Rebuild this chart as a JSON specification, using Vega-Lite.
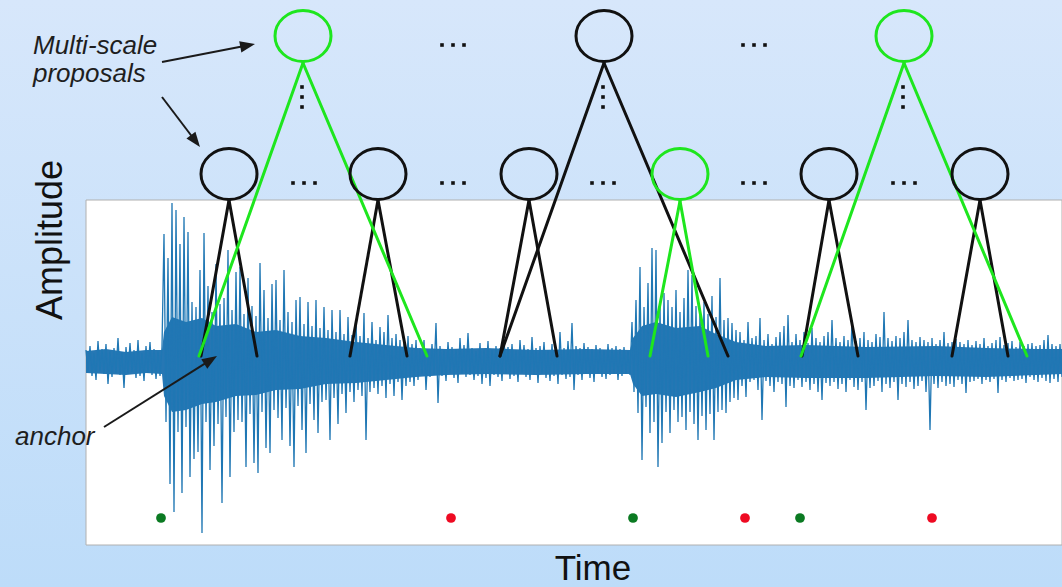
{
  "$schema": "https://vega.github.io/schema/vega-lite/v6.json",
  "width": 1062,
  "height": 587,
  "autosize": {"type": "fit", "contains": "padding"},
  "padding": 0,
  "background": "#c9e1f9",
  "config": {"view": {"stroke": null}},
  "datasets": {
    "wave": [
      {"t":0,"a":12},{"t":2,"a":-10},{"t":4,"a":16},{"t":6,"a":-14},{"t":8,"a":9},{"t":10,"a":-18},{"t":12,"a":21},{"t":14,"a":-9},{"t":16,"a":13},{"t":18,"a":-12},{"t":20,"a":18},{"t":22,"a":-22},{"t":24,"a":11},{"t":26,"a":-15},{"t":28,"a":14},{"t":30,"a":-11},{"t":32,"a":24},{"t":34,"a":-13},{"t":36,"a":10},{"t":38,"a":-26},{"t":40,"a":15},{"t":42,"a":-12},{"t":44,"a":19},{"t":46,"a":-10},{"t":48,"a":12},{"t":50,"a":-16},{"t":52,"a":22},{"t":54,"a":-14},{"t":56,"a":9},{"t":58,"a":-19},{"t":60,"a":16},{"t":62,"a":-11},{"t":64,"a":20},{"t":66,"a":-13},{"t":68,"a":13},{"t":70,"a":-17},{"t":72,"a":11},{"t":74,"a":-14},{"t":76,"a":15},
      {"t":78,"a":128},{"t":80,"a":-60},{"t":82,"a":104},{"t":84,"a":-122},{"t":86,"a":159},{"t":88,"a":-150},{"t":90,"a":152},{"t":92,"a":-70},{"t":94,"a":118},{"t":96,"a":-131},{"t":98,"a":145},{"t":100,"a":-65},{"t":102,"a":130},{"t":104,"a":-115},{"t":106,"a":60},{"t":108,"a":-97},{"t":110,"a":55},{"t":112,"a":-90},{"t":114,"a":92},{"t":116,"a":-171},{"t":118,"a":129},{"t":120,"a":-60},{"t":122,"a":76},{"t":124,"a":-108},{"t":126,"a":50},{"t":128,"a":-84},{"t":130,"a":98},{"t":132,"a":-62},{"t":134,"a":58},{"t":136,"a":-141},{"t":138,"a":64},{"t":140,"a":-55},{"t":142,"a":112},{"t":144,"a":-115},{"t":146,"a":52},{"t":148,"a":-70},{"t":150,"a":90},{"t":152,"a":-58},{"t":154,"a":95},{"t":156,"a":-60},{"t":158,"a":48},{"t":160,"a":-105},{"t":162,"a":84},{"t":164,"a":-52},{"t":166,"a":56},{"t":168,"a":-101},{"t":170,"a":46},{"t":172,"a":-111},{"t":174,"a":99},{"t":176,"a":-50},{"t":178,"a":72},{"t":180,"a":-86},{"t":182,"a":44},{"t":184,"a":-91},{"t":186,"a":78},{"t":188,"a":-48},{"t":190,"a":82},{"t":192,"a":-56},{"t":194,"a":42},{"t":196,"a":-78},{"t":198,"a":92},{"t":200,"a":-46},{"t":202,"a":50},{"t":204,"a":-84},{"t":206,"a":40},{"t":208,"a":-105},{"t":210,"a":62},{"t":212,"a":-44},{"t":214,"a":65},{"t":216,"a":-68},{"t":218,"a":38},{"t":220,"a":-91},{"t":222,"a":60},{"t":224,"a":-42},{"t":226,"a":36},{"t":228,"a":-58},{"t":230,"a":62},{"t":232,"a":-71},{"t":234,"a":34},{"t":236,"a":-40},{"t":238,"a":55},{"t":240,"a":-38},{"t":242,"a":32},{"t":244,"a":-78},{"t":246,"a":52},{"t":248,"a":-36},{"t":250,"a":30},{"t":252,"a":-62},{"t":254,"a":52},{"t":256,"a":-32},{"t":258,"a":28},{"t":260,"a":-51},{"t":262,"a":45},{"t":264,"a":-30},{"t":266,"a":27},{"t":268,"a":-40},{"t":270,"a":42},{"t":272,"a":-28},{"t":274,"a":26},{"t":276,"a":-34},{"t":278,"a":49},{"t":280,"a":-78},{"t":282,"a":24},{"t":284,"a":-30},{"t":286,"a":40},{"t":288,"a":-26},{"t":290,"a":22},{"t":292,"a":-32},{"t":294,"a":35},{"t":296,"a":-24},{"t":298,"a":30},{"t":300,"a":-36},{"t":302,"a":47},{"t":304,"a":-22},{"t":306,"a":24},{"t":308,"a":-34},{"t":310,"a":28},{"t":312,"a":-20},{"t":314,"a":22},{"t":316,"a":-38},{"t":318,"a":20},{"t":320,"a":-24},{"t":322,"a":26},{"t":324,"a":-20},{"t":326,"a":18},{"t":328,"a":-24},{"t":330,"a":22},
      {"t":332,"a":-18},{"t":334,"a":14},{"t":336,"a":-12},{"t":338,"a":22},{"t":340,"a":-28},{"t":342,"a":11},{"t":344,"a":-15},{"t":346,"a":18},{"t":348,"a":-13},{"t":350,"a":39},{"t":352,"a":-41},{"t":354,"a":16},{"t":356,"a":-14},{"t":358,"a":12},{"t":360,"a":-19},{"t":362,"a":20},{"t":364,"a":-11},{"t":366,"a":15},{"t":368,"a":-16},{"t":370,"a":13},{"t":372,"a":-21},{"t":374,"a":24},{"t":376,"a":-12},{"t":378,"a":17},{"t":380,"a":-15},{"t":382,"a":29},{"t":384,"a":-13},{"t":386,"a":14},{"t":388,"a":-18},{"t":390,"a":11},{"t":392,"a":-14},{"t":394,"a":19},{"t":396,"a":-22},{"t":398,"a":13},{"t":400,"a":-16},{"t":402,"a":21},{"t":404,"a":-24},{"t":406,"a":12},{"t":408,"a":-13},{"t":410,"a":16},{"t":412,"a":-15},{"t":414,"a":14},{"t":416,"a":-19},{"t":418,"a":23},{"t":420,"a":-12},{"t":422,"a":15},{"t":424,"a":-17},{"t":426,"a":18},{"t":428,"a":-14},{"t":430,"a":12},{"t":432,"a":-20},{"t":434,"a":22},{"t":436,"a":-11},{"t":438,"a":17},{"t":440,"a":-15},{"t":442,"a":13},{"t":444,"a":-18},{"t":446,"a":25},{"t":448,"a":-13},{"t":450,"a":14},{"t":452,"a":-21},{"t":454,"a":16},{"t":456,"a":-12},{"t":458,"a":20},{"t":460,"a":-16},{"t":462,"a":12},{"t":464,"a":-19},{"t":466,"a":18},{"t":468,"a":-14},{"t":470,"a":15},{"t":472,"a":-22},{"t":474,"a":30},{"t":476,"a":-13},{"t":478,"a":14},{"t":480,"a":-17},{"t":482,"a":21},{"t":484,"a":-15},{"t":486,"a":39},{"t":488,"a":-28},{"t":490,"a":16},{"t":492,"a":-13},{"t":494,"a":14},{"t":496,"a":-18},{"t":498,"a":19},{"t":500,"a":-12},{"t":502,"a":15},{"t":504,"a":-16},{"t":506,"a":13},{"t":508,"a":-20},{"t":510,"a":17},{"t":512,"a":-11},{"t":514,"a":14},{"t":516,"a":-15},{"t":518,"a":12},{"t":520,"a":-17},{"t":522,"a":18},{"t":524,"a":-13},{"t":526,"a":14},{"t":528,"a":-12},{"t":530,"a":16},{"t":532,"a":-18},{"t":534,"a":13},{"t":536,"a":-14},{"t":538,"a":15},{"t":540,"a":-12},{"t":542,"a":11},{"t":544,"a":-13},
      {"t":546,"a":40},{"t":548,"a":-30},{"t":550,"a":62},{"t":552,"a":-51},{"t":554,"a":95},{"t":556,"a":-98},{"t":558,"a":55},{"t":560,"a":-45},{"t":562,"a":79},{"t":564,"a":-71},{"t":566,"a":114},{"t":568,"a":-60},{"t":570,"a":112},{"t":572,"a":-105},{"t":574,"a":58},{"t":576,"a":-81},{"t":578,"a":69},{"t":580,"a":-50},{"t":582,"a":62},{"t":584,"a":-71},{"t":586,"a":55},{"t":588,"a":-48},{"t":590,"a":72},{"t":592,"a":-60},{"t":594,"a":50},{"t":596,"a":-55},{"t":598,"a":64},{"t":600,"a":-68},{"t":602,"a":92},{"t":604,"a":-50},{"t":606,"a":87},{"t":608,"a":-62},{"t":610,"a":56},{"t":612,"a":-78},{"t":614,"a":52},{"t":616,"a":-54},{"t":618,"a":60},{"t":620,"a":-68},{"t":622,"a":48},{"t":624,"a":-52},{"t":626,"a":66},{"t":628,"a":-78},{"t":630,"a":45},{"t":632,"a":-50},{"t":634,"a":84},{"t":636,"a":-48},{"t":638,"a":42},{"t":640,"a":-51},{"t":642,"a":44},{"t":644,"a":-40},{"t":646,"a":39},{"t":648,"a":-36},{"t":650,"a":32},{"t":652,"a":-38},{"t":654,"a":30},
      {"t":656,"a":-24},{"t":658,"a":22},{"t":660,"a":-35},{"t":662,"a":40},{"t":664,"a":-20},{"t":666,"a":24},{"t":668,"a":-18},{"t":670,"a":26},{"t":672,"a":-28},{"t":674,"a":44},{"t":676,"a":-58},{"t":678,"a":22},{"t":680,"a":-19},{"t":682,"a":28},{"t":684,"a":-24},{"t":686,"a":18},{"t":688,"a":-30},{"t":690,"a":25},{"t":692,"a":-20},{"t":694,"a":30},{"t":696,"a":-22},{"t":698,"a":36},{"t":700,"a":-45},{"t":702,"a":47},{"t":704,"a":-24},{"t":706,"a":20},{"t":708,"a":-26},{"t":710,"a":28},{"t":712,"a":-18},{"t":714,"a":22},{"t":716,"a":-25},{"t":718,"a":30},{"t":720,"a":-20},{"t":722,"a":19},{"t":724,"a":-28},{"t":726,"a":34},{"t":728,"a":-22},{"t":730,"a":24},{"t":732,"a":-30},{"t":734,"a":20},{"t":736,"a":-38},{"t":738,"a":26},{"t":740,"a":-21},{"t":742,"a":30},{"t":744,"a":-24},{"t":746,"a":42},{"t":748,"a":-20},{"t":750,"a":24},{"t":752,"a":-27},{"t":754,"a":20},{"t":756,"a":-22},{"t":758,"a":26},{"t":760,"a":-30},{"t":762,"a":22},{"t":764,"a":-18},{"t":766,"a":42},{"t":768,"a":-25},{"t":770,"a":21},{"t":772,"a":-28},{"t":774,"a":24},{"t":776,"a":-20},{"t":778,"a":30},{"t":780,"a":-48},{"t":782,"a":22},{"t":784,"a":-26},{"t":786,"a":20},{"t":788,"a":-24},{"t":790,"a":28},{"t":792,"a":-19},{"t":794,"a":25},{"t":796,"a":-30},{"t":798,"a":50},{"t":800,"a":-22},{"t":802,"a":24},{"t":804,"a":-26},{"t":806,"a":21},{"t":808,"a":-20},{"t":810,"a":26},{"t":812,"a":-38},{"t":814,"a":24},{"t":816,"a":-22},{"t":818,"a":30},{"t":820,"a":-25},{"t":822,"a":42},{"t":824,"a":-20},{"t":826,"a":22},{"t":828,"a":-27},{"t":830,"a":20},{"t":832,"a":-24},{"t":834,"a":25},{"t":836,"a":-19},{"t":838,"a":22},{"t":840,"a":-30},{"t":842,"a":20},{"t":844,"a":-68},{"t":846,"a":24},{"t":848,"a":-22},{"t":850,"a":18},{"t":852,"a":-26},{"t":854,"a":22},{"t":856,"a":-20},{"t":858,"a":30},{"t":860,"a":-24},{"t":862,"a":19},{"t":864,"a":-22},{"t":866,"a":20},{"t":868,"a":-25},{"t":870,"a":23},{"t":872,"a":-18},{"t":874,"a":20},{"t":876,"a":-22},{"t":878,"a":18},{"t":880,"a":-31},{"t":882,"a":22},{"t":884,"a":-20},{"t":886,"a":17},{"t":888,"a":-19},{"t":890,"a":21},{"t":892,"a":-17},{"t":894,"a":18},{"t":896,"a":-22},{"t":898,"a":24},{"t":900,"a":-18},{"t":902,"a":16},{"t":904,"a":-20},{"t":906,"a":19},{"t":908,"a":-17},{"t":910,"a":22},{"t":912,"a":-31},{"t":914,"a":25},{"t":916,"a":-18},{"t":918,"a":17},{"t":920,"a":-20},{"t":922,"a":19},{"t":924,"a":-16},{"t":926,"a":21},{"t":928,"a":-19},{"t":930,"a":15},{"t":932,"a":-18},{"t":934,"a":20},{"t":936,"a":-17},{"t":938,"a":16},{"t":940,"a":-21},{"t":942,"a":18},{"t":944,"a":-15},{"t":946,"a":19},{"t":948,"a":-18},{"t":950,"a":16},{"t":952,"a":-20},{"t":954,"a":17},{"t":956,"a":-16},{"t":958,"a":22},{"t":960,"a":-19},{"t":962,"a":27},{"t":964,"a":-21},{"t":966,"a":18},{"t":968,"a":-17},{"t":970,"a":16},{"t":972,"a":-20},{"t":974,"a":18},{"t":976,"a":-15}
    ],
    "core": [
      {"t":0,"a":11,"a2":-11},{"t":20,"a":13,"a2":-12},{"t":40,"a":10,"a2":-13},{"t":60,"a":12,"a2":-11},{"t":76,"a":12,"a2":-12},
      {"t":78,"a":30,"a2":-34},{"t":86,"a":45,"a2":-50},{"t":100,"a":40,"a2":-48},{"t":116,"a":44,"a2":-42},{"t":130,"a":36,"a2":-40},{"t":150,"a":38,"a2":-34},{"t":170,"a":30,"a2":-33},{"t":190,"a":32,"a2":-28},{"t":214,"a":26,"a2":-27},{"t":240,"a":24,"a2":-22},{"t":270,"a":20,"a2":-21},{"t":300,"a":17,"a2":-18},{"t":330,"a":14,"a2":-15},
      {"t":360,"a":13,"a2":-13},{"t":400,"a":14,"a2":-12},{"t":450,"a":12,"a2":-13},{"t":500,"a":13,"a2":-12},{"t":544,"a":12,"a2":-12},
      {"t":547,"a":24,"a2":-22},{"t":556,"a":36,"a2":-34},{"t":570,"a":40,"a2":-32},{"t":590,"a":34,"a2":-35},{"t":614,"a":36,"a2":-30},{"t":630,"a":28,"a2":-26},{"t":650,"a":20,"a2":-18},
      {"t":680,"a":16,"a2":-15},{"t":720,"a":17,"a2":-16},{"t":780,"a":15,"a2":-16},{"t":850,"a":16,"a2":-14},{"t":900,"a":14,"a2":-15},{"t":950,"a":13,"a2":-13},{"t":976,"a":13,"a2":-12}
    ],
    "events": [
      {"t":75,"a":-156,"status":"matched"},
      {"t":365,"a":-156,"status":"unmatched"},
      {"t":547,"a":-156,"status":"matched"},
      {"t":659,"a":-156,"status":"unmatched"},
      {"t":714,"a":-156,"status":"matched"},
      {"t":846,"a":-156,"status":"unmatched"}
    ],
    "proposals": [
      {"t":217,"a":326,"proposal":"selected"},
      {"t":518,"a":326,"proposal":"other"},
      {"t":818,"a":326,"proposal":"selected"},
      {"t":143,"a":188,"proposal":"other"},
      {"t":292,"a":188,"proposal":"other"},
      {"t":443,"a":188,"proposal":"other"},
      {"t":594,"a":188,"proposal":"selected"},
      {"t":743,"a":188,"proposal":"other"},
      {"t":894,"a":188,"proposal":"other"}
    ],
    "legs": [
      {"t":143,"a":162,"t2":115,"a2":6,"proposal":"other"},
      {"t":143,"a":162,"t2":171,"a2":6,"proposal":"other"},
      {"t":292,"a":162,"t2":264,"a2":6,"proposal":"other"},
      {"t":292,"a":162,"t2":321,"a2":6,"proposal":"other"},
      {"t":443,"a":162,"t2":414,"a2":6,"proposal":"other"},
      {"t":443,"a":162,"t2":471,"a2":6,"proposal":"other"},
      {"t":743,"a":162,"t2":716,"a2":6,"proposal":"other"},
      {"t":743,"a":162,"t2":772,"a2":6,"proposal":"other"},
      {"t":894,"a":162,"t2":866,"a2":6,"proposal":"other"},
      {"t":894,"a":162,"t2":922,"a2":6,"proposal":"other"},
      {"t":518,"a":299,"t2":414,"a2":6,"proposal":"other"},
      {"t":518,"a":299,"t2":642,"a2":6,"proposal":"other"},
      {"t":594,"a":161,"t2":564,"a2":6,"proposal":"selected"},
      {"t":594,"a":161,"t2":622,"a2":6,"proposal":"selected"},
      {"t":217,"a":299,"t2":113,"a2":6,"proposal":"selected"},
      {"t":217,"a":299,"t2":341,"a2":6,"proposal":"selected"},
      {"t":818,"a":299,"t2":715,"a2":6,"proposal":"selected"},
      {"t":818,"a":299,"t2":941,"a2":6,"proposal":"selected"}
    ],
    "ellipsis": [
      {"t":216,"a":275},{"t":216,"a":265},{"t":216,"a":255},
      {"t":517,"a":275},{"t":517,"a":265},{"t":517,"a":255},
      {"t":817,"a":275},{"t":817,"a":265},{"t":817,"a":255},
      {"t":356,"a":317},{"t":367,"a":317},{"t":378,"a":317},
      {"t":657,"a":317},{"t":668,"a":317},{"t":679,"a":317},
      {"t":207,"a":179},{"t":218,"a":179},{"t":229,"a":179},
      {"t":356,"a":179},{"t":367,"a":179},{"t":378,"a":179},
      {"t":506,"a":179},{"t":517,"a":179},{"t":528,"a":179},
      {"t":657,"a":179},{"t":668,"a":179},{"t":679,"a":179},
      {"t":807,"a":179},{"t":818,"a":179},{"t":829,"a":179}
    ],
    "arrows": [
      {"t":76,"a":300,"t2":161,"a2":316.5},
      {"t":76,"a":265,"t2":109,"a2":221.5},
      {"t":18,"a":-65,"t2":124,"a2":1.7}
    ],
    "notes": [
      {"t":-53,"a":308,"label":"Multi-scale"},
      {"t":-53,"a":280,"label":"proposals"},
      {"t":-71,"a":-83,"label":"anchor"}
    ]
  },
  "encoding": {
    "x": {"field":"t","type":"quantitative","scale":{"domain":[-86,976],"nice":false,"zero":false},"axis":null},
    "y": {"field":"a","type":"quantitative","scale":{"domain":[-225,362],"nice":false,"zero":false},"axis":null}
  },
  "resolve": {"scale": {"stroke": "independent", "fill": "independent"}},
  "layer": [
    {
      "data": {"values": [{"t":-86,"t2":976,"a":-225,"a2":362}]},
      "mark": {"type":"rect","clip":true,"color":{"gradient":"linear","x1":0,"y1":0,"x2":0,"y2":1,"stops":[{"offset":0,"color":"#d7e7fb"},{"offset":1,"color":"#bddcf9"}]}},
      "encoding": {"x2":{"field":"t2"},"y2":{"field":"a2"}}
    },
    {
      "data": {"values": [{"t":0,"t2":976,"a":162,"a2":-183}]},
      "mark": {"type":"rect","clip":true,"fill":"#ffffff","stroke":"#b0b0b0","strokeWidth":1},
      "encoding": {"x2":{"field":"t2"},"y2":{"field":"a2"}}
    },
    {
      "data": {"name":"core"},
      "mark": {"type":"area","clip":true,"color":"#2677b4","opacity":1,"interpolate":"linear"},
      "encoding": {"y2":{"field":"a2"}}
    },
    {
      "data": {"name":"wave"},
      "mark": {"type":"line","clip":true,"color":"#1f77b4","strokeWidth":1.3,"interpolate":"linear"},
      "encoding": {}
    },
    {
      "data": {"name":"events"},
      "mark": {"type":"point","clip":true,"shape":"circle","filled":true,"size":95,"opacity":1,"strokeWidth":0},
      "encoding": {"fill":{"field":"status","type":"nominal","scale":{"domain":["matched","unmatched"],"range":["#0b7a22","#ee0a22"]},"legend":null}}
    },
    {
      "data": {"name":"legs"},
      "mark": {"type":"rule","clip":true,"strokeWidth":3,"strokeCap":"round"},
      "encoding": {
        "x2":{"field":"t2"},"y2":{"field":"a2"},
        "stroke":{"field":"proposal","type":"nominal","scale":{"domain":["selected","other"],"range":["#1ee61e","#111111"]},"legend":null}
      }
    },
    {
      "data": {"name":"proposals"},
      "mark": {"type":"point","clip":true,"shape":"M1,0C1,0.502 0.5523,0.91 0,0.91C-0.5523,0.91 -1,0.502 -1,0C-1,-0.502 -0.5523,-0.91 0,-0.91C0.5523,-0.91 1,-0.502 1,0Z","size":3136,"strokeWidth":3,"filled":false,"opacity":1},
      "encoding": {
        "stroke":{"field":"proposal","type":"nominal","scale":{"domain":["selected","other"],"range":["#1ee61e","#111111"]},"legend":null}
      }
    },
    {
      "data": {"name":"ellipsis"},
      "mark": {"type":"point","clip":true,"shape":"square","filled":true,"size":13,"color":"#111111","opacity":1,"strokeWidth":0},
      "encoding": {}
    },
    {
      "data": {"name":"arrows"},
      "mark": {"type":"rule","clip":true,"strokeWidth":2,"color":"#1a1a1a"},
      "encoding": {"x2":{"field":"t2"},"y2":{"field":"a2"}}
    },
    {
      "data": {"values": [{"t":169,"a":318}]},
      "mark": {"type":"point","clip":true,"shape":"M0,0L-2,-0.75L-2,0.75Z","size":225,"filled":true,"color":"#1a1a1a","opacity":1,"strokeWidth":0,"angle":349},
      "encoding": {}
    },
    {
      "data": {"values": [{"t":114,"a":215}]},
      "mark": {"type":"point","clip":true,"shape":"M0,0L-2,-0.75L-2,0.75Z","size":225,"filled":true,"color":"#1a1a1a","opacity":1,"strokeWidth":0,"angle":52.8},
      "encoding": {}
    },
    {
      "data": {"values": [{"t":131,"a":6}]},
      "mark": {"type":"point","clip":true,"shape":"M0,0L-2,-0.75L-2,0.75Z","size":225,"filled":true,"color":"#1a1a1a","opacity":1,"strokeWidth":0,"angle":327.9},
      "encoding": {}
    },
    {
      "data": {"name":"notes"},
      "mark": {"type":"text","clip":true,"font":"Liberation Sans","fontSize":26,"fontStyle":"italic","align":"left","baseline":"alphabetic","color":"#1e1e1e"},
      "encoding": {"text":{"field":"label","type":"nominal"}}
    },
    {
      "data": {"values": [{"t":-24,"a":122,"label":"Amplitude"}]},
      "mark": {"type":"text","clip":true,"font":"Liberation Sans","fontSize":36,"angle":270,"align":"center","baseline":"alphabetic","color":"#111111"},
      "encoding": {"text":{"field":"label","type":"nominal"}}
    },
    {
      "data": {"values": [{"t":507,"a":-225,"label":"Time"}]},
      "mark": {"type":"text","clip":true,"font":"Liberation Sans","fontSize":35,"align":"center","baseline":"bottom","color":"#111111"},
      "encoding": {"text":{"field":"label","type":"nominal"}}
    }
  ]
}
